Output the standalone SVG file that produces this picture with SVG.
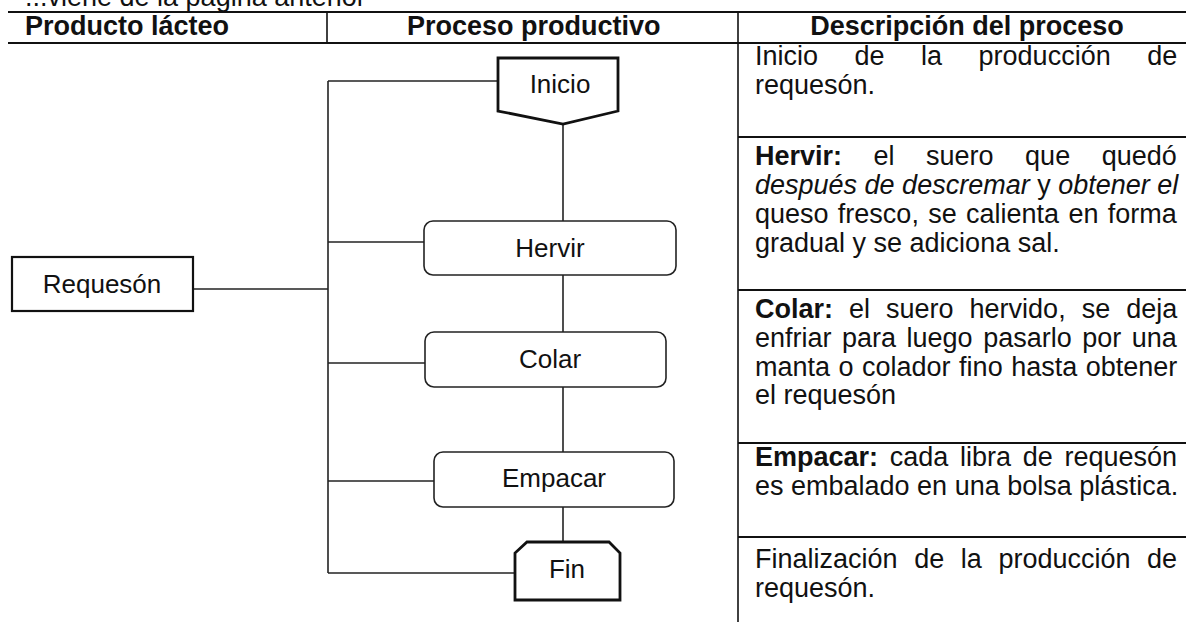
<svg xmlns="http://www.w3.org/2000/svg" width="1186" height="622" viewBox="0 0 1186 622">
<style>
text{font-family:"Liberation Sans",Arial,sans-serif;fill:#111}
.hd{font-size:27px;font-weight:bold}
.bd{font-size:27px}
.nl{font-size:26px;text-anchor:middle}
.b{font-weight:bold}
.i{font-style:italic}
.tl{stroke:#111;fill:none}
.proc{fill:#fff;stroke:#222;stroke-width:1.6}
.term{fill:#fff;stroke:#111;stroke-width:2.8}
.cn{stroke:#222;stroke-width:1.6;fill:none}
</style>
<rect width="1186" height="622" fill="#fff"/>
<text class="bd" x="25" y="6">...viene de la página anterior</text>
<g id="table">
<line class="tl" x1="8" y1="12" x2="1186" y2="12" stroke-width="2.2"/>
<line class="tl" x1="8" y1="43" x2="1186" y2="43" stroke-width="2.2"/>
<line class="tl" x1="327" y1="12" x2="327" y2="43" stroke-width="1.6"/>
<line class="tl" x1="738" y1="12" x2="738" y2="622" stroke-width="1.6"/>
<line class="tl" x1="738" y1="137" x2="1186" y2="137" stroke-width="1.8"/>
<line class="tl" x1="738" y1="290" x2="1186" y2="290" stroke-width="1.8"/>
<line class="tl" x1="738" y1="443" x2="1186" y2="443" stroke-width="1.8"/>
<line class="tl" x1="738" y1="537" x2="1186" y2="537" stroke-width="1.8"/>
<text class="hd" x="25" y="35">Producto lácteo</text>
<text class="hd" x="407" y="35">Proceso productivo</text>
<text class="hd" x="967" y="35" text-anchor="middle">Descripción del proceso</text>
</g>
<g id="connectors">
<line class="cn" x1="328" y1="81" x2="328" y2="573"/>
<line class="cn" x1="328" y1="81" x2="498" y2="81"/>
<line class="cn" x1="328" y1="242" x2="424" y2="242"/>
<line class="cn" x1="193" y1="289" x2="328" y2="289"/>
<line class="cn" x1="328" y1="363" x2="425" y2="363"/>
<line class="cn" x1="328" y1="481" x2="434" y2="481"/>
<line class="cn" x1="328" y1="573" x2="515" y2="573"/>
<line class="cn" x1="563" y1="124" x2="563" y2="221"/>
<line class="cn" x1="563" y1="275" x2="563" y2="332"/>
<line class="cn" x1="563" y1="387" x2="563" y2="452"/>
<line class="cn" x1="563" y1="507" x2="563" y2="542"/>
</g>
<g id="node-requeson">
<rect x="12" y="257" width="181" height="54" fill="#fff" stroke="#111" stroke-width="2.2"/>
<text class="nl" x="102" y="293">Requesón</text>
</g>
<g id="node-inicio">
<polygon class="term" points="498,58 618,58 618,111 563,124 498,111"/>
<text class="nl" x="560" y="93">Inicio</text>
</g>
<g id="node-hervir">
<rect class="proc" x="424" y="221" width="252" height="54" rx="9"/>
<text class="nl" x="550" y="257">Hervir</text>
</g>
<g id="node-colar">
<rect class="proc" x="425" y="332" width="241" height="55" rx="9"/>
<text class="nl" x="550" y="368">Colar</text>
</g>
<g id="node-empacar">
<rect class="proc" x="434" y="452" width="240" height="55" rx="9"/>
<text class="nl" x="554" y="487">Empacar</text>
</g>
<g id="node-fin">
<polygon class="term" points="527,542 609,542 620,553 620,600 515,600 515,553"/>
<text class="nl" x="567" y="578">Fin</text>
</g>
<g id="descriptions">
<text class="bd" x="755" y="65" word-spacing="29">Inicio de la producción de</text>
<text class="bd" x="755" y="94">requesón.</text>
<text class="bd" x="755" y="165" word-spacing="24"><tspan class="b">Hervir:</tspan> el suero que quedó</text>
<text class="bd" x="755" y="194"><tspan class="i">después de descremar</tspan> y <tspan class="i">obtener el</tspan></text>
<text class="bd" x="755" y="223" word-spacing="1.8">queso fresco, se calienta en forma</text>
<text class="bd" x="755" y="252">gradual y se adiciona sal.</text>
<text class="bd" x="755" y="318" word-spacing="8.5"><tspan class="b">Colar:</tspan> el suero hervido, se deja</text>
<text class="bd" x="755" y="347" word-spacing="3">enfriar para luego pasarlo por una</text>
<text class="bd" x="755" y="376" word-spacing="1">manta o colador fino hasta obtener</text>
<text class="bd" x="755" y="404">el requesón</text>
<text class="bd" x="755" y="466" word-spacing="4.2"><tspan class="b">Empacar:</tspan> cada libra de requesón</text>
<text class="bd" x="755" y="495">es embalado en una bolsa plástica.</text>
<text class="bd" x="755" y="568" word-spacing="9.1">Finalización de la producción de</text>
<text class="bd" x="755" y="597">requesón.</text>
</g>
</svg>
